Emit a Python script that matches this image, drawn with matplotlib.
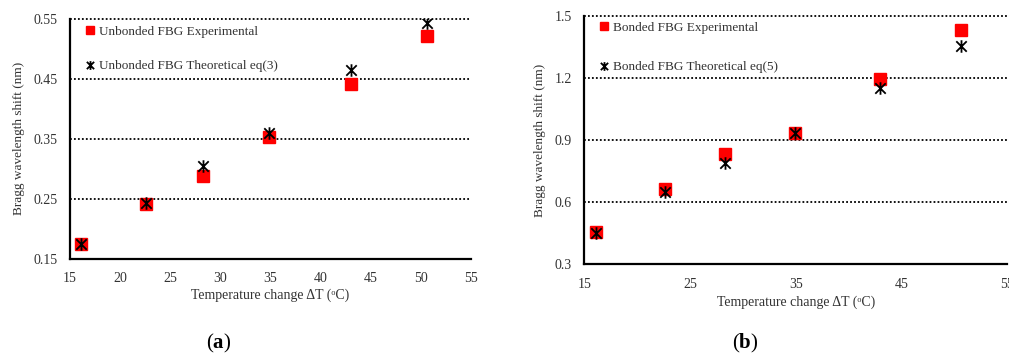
import matplotlib
matplotlib.use('Agg')
import matplotlib.pyplot as plt
from matplotlib.path import Path

# Дані
temp_change = [16.1, 22.6, 28.3, 34.9, 43.0, 50.6]

unbonded_exp = [0.175, 0.241, 0.288, 0.353, 0.442, 0.521]
unbonded_theory = [0.175, 0.242, 0.305, 0.359, 0.464, 0.544]

bonded_exp = [0.456, 0.663, 0.832, 0.935, 1.194, 1.430]
bonded_theory = [0.450, 0.647, 0.790, 0.932, 1.149, 1.355]

plt.rcParams['font.family'] = ['Liberation Serif', 'DejaVu Serif']
plt.rcParams['mathtext.fontset'] = 'custom'
plt.rcParams['mathtext.rm'] = 'Liberation Serif'
plt.rcParams['mathtext.bf'] = 'Liberation Serif:bold'

fig = plt.figure(figsize=(10.09, 3.56), dpi=100)
ax1 = fig.add_axes([70 / 1009, 1 - 258.5 / 356, 401 / 1009, 239.5 / 356])
ax2 = fig.add_axes([584.3 / 1009, 1 - 264.3 / 356, 422.7 / 1009, 248.6 / 356])

# Маркер як у Excel: хрест "x" з вертикальною рискою
star = Path([(-1, -1), (1, 1), (-1, 1), (1, -1), (0, -1.2), (0, 1.2)],
            [Path.MOVETO, Path.LINETO, Path.MOVETO, Path.LINETO, Path.MOVETO, Path.LINETO])


def style(ax, xticks, yticks, xlim, ylim):
    ax.set_xlim(*xlim)
    ax.set_ylim(*ylim)
    ax.set_xticks(xticks)
    ax.set_yticks(yticks)
    for s in ['top', 'right']:
        ax.spines[s].set_visible(False)
    for s in ['left', 'bottom']:
        ax.spines[s].set_linewidth(1.6)
    ax.tick_params(length=0, labelsize=10, colors='#333333')
    ax.tick_params(axis='x', pad=10)
    ax.tick_params(axis='y', pad=9)
    for y in yticks[1:]:
        ax.axhline(y, color='black', linestyle=(0, (1, 1.2)), linewidth=1.3, zorder=1,
                   clip_on=False)
    ax.set_xlabel('Temperature change ΔT (ᵒC)', fontsize=10, color='#333333', labelpad=2)
    ax.set_ylabel('Bragg wavelength shift (nm)', fontsize=9.5, color='#333333', labelpad=6)


# Панель (a)
ax1.plot(temp_change, unbonded_exp, 's', color='#ff0000', markersize=8,
         linestyle='none', label='Unbonded FBG Experimental', zorder=3)
ax1.plot(temp_change, unbonded_theory, marker=star, color='black', markersize=9,
         markeredgewidth=1.3, linestyle='none', label='Unbonded FBG Theoretical eq(3)', zorder=4)
style(ax1, list(range(15, 56, 5)), [0.15, 0.25, 0.35, 0.45, 0.55], (15, 55), (0.15, 0.55))
ax1.set_yticklabels(['0.15', '0.25', '0.35', '0.45', '0.55'])
ax1.legend(loc='upper left', frameon=False, fontsize=9.5, labelspacing=1.7,
           handletextpad=0.1, handlelength=1.2, markerscale=0.7,
           bbox_to_anchor=(0.0, 1.023), labelcolor='#333333')

# Панель (b)
ax2.plot(temp_change, bonded_exp, 's', color='#ff0000', markersize=8,
         linestyle='none', label='Bonded FBG Experimental', zorder=3)
ax2.plot(temp_change, bonded_theory, marker=star, color='black', markersize=9,
         markeredgewidth=1.3, linestyle='none', label='Bonded FBG Theoretical eq(5)', zorder=4)
style(ax2, [15, 25, 35, 45, 55], [0.3, 0.6, 0.9, 1.2, 1.5], (15, 55), (0.3, 1.5))
ax2.tick_params(axis='x', pad=10)
ax2.xaxis.labelpad = 3
ax2.legend(loc='upper left', frameon=False, fontsize=9.5, labelspacing=2.05,
           handletextpad=0.1, handlelength=1.2, markerscale=0.7,
           bbox_to_anchor=(0.0, 1.024), labelcolor='#333333')

fig.text(219 / 1009, 1 - 343 / 356, r'($\mathbf{a}$)', fontsize=15, ha='center', va='center')
fig.text(745 / 1009, 1 - 343 / 356, r'($\mathbf{b}$)', fontsize=15, ha='center', va='center')

fig.savefig('out.png', dpi=100)
